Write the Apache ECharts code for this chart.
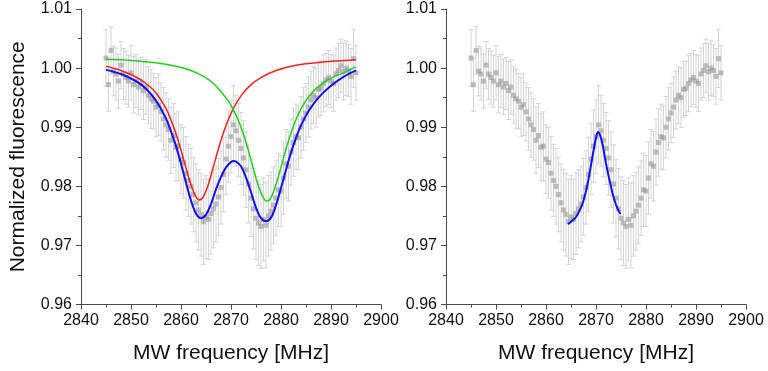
<!DOCTYPE html>
<html>
<head>
<meta charset="utf-8">
<script src="https://cdn.jsdelivr.net/npm/echarts@6/dist/echarts.min.js"></script>
<style>
  html, body { margin: 0; padding: 0; background: #fff; }
  #chart { width: 768px; height: 371px; }
</style>
</head>
<body>
<div id="chart"></div>
<script>
// Measured ODMR spectrum: frequency (MHz), normalized fluorescence and error
const freq = [
  2845, 2845.5, 2846, 2846.5, 2847, 2847.5, 2848, 2848.5, 2849, 2849.5,
  2850, 2850.5, 2851, 2851.5, 2852, 2852.5, 2853, 2853.5, 2854, 2854.5,
  2855, 2855.5, 2856, 2856.5, 2857, 2857.5, 2858, 2858.5, 2859, 2859.5,
  2860, 2860.5, 2861, 2861.5, 2862, 2862.5, 2863, 2863.5, 2864, 2864.5,
  2865, 2865.5, 2866, 2866.5, 2867, 2867.5, 2868, 2868.5, 2869, 2869.5,
  2870, 2870.5, 2871, 2871.5, 2872, 2872.5, 2873, 2873.5, 2874, 2874.5,
  2875, 2875.5, 2876, 2876.5, 2877, 2877.5, 2878, 2878.5, 2879, 2879.5,
  2880, 2880.5, 2881, 2881.5, 2882, 2882.5, 2883, 2883.5, 2884, 2884.5,
  2885, 2885.5, 2886, 2886.5, 2887, 2887.5, 2888, 2888.5, 2889, 2889.5,
  2890, 2890.5, 2891, 2891.5, 2892, 2892.5, 2893, 2893.5, 2894, 2894.5,
  2895
];
const fluor = [
  1.0017, 0.9972, 1.0030, 0.9995, 0.9990, 0.9978, 1.0005, 0.9990, 0.9984, 0.9978,
  0.9992, 0.9972, 0.9978, 0.9968, 0.9974, 0.9962, 0.9968, 0.9954, 0.9948, 0.9944,
  0.9934, 0.9938, 0.9926, 0.9914, 0.9904, 0.9896, 0.9878, 0.9886, 0.9866, 0.9868,
  0.9846, 0.9840, 0.9822, 0.9810, 0.9800, 0.9786, 0.9772, 0.9760, 0.9752, 0.9740,
  0.9748, 0.9744, 0.9754, 0.9762, 0.9770, 0.9782, 0.9798, 0.9820, 0.9846, 0.9868,
  0.9884, 0.9904, 0.9894, 0.9878, 0.9864, 0.9848, 0.9828, 0.9804, 0.9780, 0.9762,
  0.9746, 0.9738, 0.9732, 0.9744, 0.9734, 0.9750, 0.9758, 0.9768, 0.9780, 0.9794,
  0.9792, 0.9814, 0.9838, 0.9834, 0.9858, 0.9874, 0.9884, 0.9882, 0.9900, 0.9914,
  0.9924, 0.9934, 0.9946, 0.9954, 0.9950, 0.9964, 0.9966, 0.9974, 0.9980, 0.9984,
  0.9978, 0.9974, 0.9990, 0.9996, 1.0004, 0.9994, 1.0000, 0.9996, 0.9986, 1.0016,
  0.9992
];
const fluorErr = [
  0.0048, 0.0045, 0.0040, 0.0042, 0.0044, 0.0046, 0.0040, 0.0043, 0.0045, 0.0044,
  0.0046, 0.0048, 0.0045, 0.0047, 0.0044, 0.0049, 0.0046, 0.0048, 0.0050, 0.0047,
  0.0050, 0.0052, 0.0049, 0.0053, 0.0055, 0.0052, 0.0056, 0.0054, 0.0057, 0.0058,
  0.0058, 0.0060, 0.0062, 0.0061, 0.0064, 0.0063, 0.0066, 0.0068, 0.0070, 0.0072,
  0.0070, 0.0068, 0.0069, 0.0066, 0.0064, 0.0065, 0.0062, 0.0063, 0.0060, 0.0061,
  0.0062, 0.0066, 0.0060, 0.0062, 0.0061, 0.0063, 0.0064, 0.0066, 0.0065, 0.0068,
  0.0070, 0.0072, 0.0071, 0.0070, 0.0072, 0.0068, 0.0066, 0.0065, 0.0063, 0.0062,
  0.0060, 0.0061, 0.0058, 0.0059, 0.0056, 0.0057, 0.0055, 0.0054, 0.0052, 0.0053,
  0.0050, 0.0051, 0.0049, 0.0048, 0.0050, 0.0047, 0.0046, 0.0048, 0.0045, 0.0046,
  0.0045, 0.0047, 0.0044, 0.0046, 0.0045, 0.0048, 0.0046, 0.0044, 0.0047, 0.0049,
  0.0046
];

// Lower-frequency dip fit (red)
const fitAX = [2845, 2848, 2851, 2853, 2855, 2857, 2858, 2859, 2860, 2861, 2862, 2863, 2863.7,
  2864.5, 2865.5, 2866.5, 2867.5, 2868.5, 2869.5, 2870.5, 2872, 2874, 2876, 2879, 2883, 2888, 2895];
const fitAY = [1.0003, 0.9996, 0.9985, 0.9974, 0.9958, 0.9932, 0.9912, 0.9889, 0.9861, 0.9831, 0.9802, 0.9782, 0.9777,
  0.9783, 0.9804, 0.9834, 0.9864, 0.9891, 0.9914, 0.9932, 0.9953, 0.9972, 0.9984, 0.9996, 1.0005, 1.0010, 1.0014];

// Higher-frequency dip fit (green)
const fitBX = [2845, 2850, 2855, 2859, 2862, 2864.5, 2866.5, 2868, 2869.5, 2870.5, 2871.5, 2872.5, 2873.5,
  2874.5, 2875.5, 2876.5, 2877.2, 2878, 2879, 2880, 2881, 2882, 2883, 2884, 2885.5, 2887.5, 2890, 2892.5, 2895];
const fitBY = [1.0015, 1.0013, 1.0009, 1.0003, 0.9996, 0.9986, 0.9974, 0.9960, 0.9944, 0.9929, 0.9911, 0.9888, 0.9860,
  0.9829, 0.9800, 0.9780, 0.9775, 0.9781, 0.9803, 0.9832, 0.9863, 0.9890, 0.9913, 0.9931, 0.9951, 0.9969, 0.9983, 0.9992, 1.0002];

// Combined two-dip fit (blue, left panel)
const fitSumX = [2845, 2848, 2851, 2853, 2855, 2857, 2858, 2859, 2860, 2861, 2862, 2863, 2864, 2865, 2866, 2867,
  2868, 2869, 2870, 2870.5, 2871, 2872, 2873, 2874, 2875, 2876, 2877, 2878, 2879, 2880, 2881, 2882, 2883, 2884,
  2885.5, 2887.5, 2890, 2892.5, 2895];
const fitSumY = [0.9997, 0.9990, 0.9978, 0.9965, 0.9945, 0.9915, 0.9893, 0.9868, 0.9838, 0.9806, 0.9776, 0.9754, 0.9746, 0.9752, 0.9770, 0.9795,
  0.9816, 0.9832, 0.9841, 0.9843, 0.9842, 0.9834, 0.9815, 0.9790, 0.9764, 0.9746, 0.9741, 0.9747, 0.9768, 0.9797, 0.9828, 0.9857, 0.9882, 0.9903,
  0.9927, 0.9950, 0.9970, 0.9985, 0.9996];

// Central peak fit (blue, right panel)
const peakX = [2864.4, 2865, 2866, 2867, 2867.5, 2868, 2868.5, 2869, 2869.5, 2870, 2870.4, 2870.8,
  2871.3, 2871.8, 2872.4, 2873, 2873.5, 2874, 2874.5, 2874.9];
const peakY = [0.9736, 0.9740, 0.9748, 0.9764, 0.9776, 0.9792, 0.9812, 0.9836, 0.9860, 0.9882, 0.9892, 0.9887,
  0.9871, 0.9848, 0.9822, 0.9799, 0.9782, 0.9769, 0.9759, 0.9753];

// Axis ticks
const xMin = 2840, xMax = 2900, xStep = 10;
const yMin = 0.96, yMax = 1.01, yStep = 0.01;

const pts = freq.map((f, i) => [f, fluor[i]]);
const bars = freq.map((f, i) => [f, fluor[i] - fluorErr[i], fluor[i] + fluorErr[i]]);
const pair = (xs, ys) => xs.map((x, i) => [x, ys[i]]);

const FONT = 'Liberation Sans, Arial, sans-serif';
const AXIS_COLOR = '#4a4a4a';

function xAxisFor(gridIndex) {
  return {
    gridIndex, type: 'value', min: xMin, max: xMax, interval: xStep,
    name: 'MW frequency [MHz]', nameLocation: 'middle', nameGap: 38,
    nameTextStyle: { fontFamily: FONT, fontSize: 21, color: '#111' },
    axisLine: { show: true, onZero: false, lineStyle: { color: AXIS_COLOR, width: 1 } },
    axisTick: { show: true, inside: false, length: 5, lineStyle: { color: AXIS_COLOR } },
    minorTick: { show: true, splitNumber: 2, length: 3, lineStyle: { color: AXIS_COLOR } },
    axisLabel: { fontFamily: FONT, fontSize: 16, color: '#111', margin: 8,
      formatter: v => String(v) },
    splitLine: { show: false }
  };
}
function yAxisFor(gridIndex, withName) {
  return {
    gridIndex, type: 'value', min: yMin, max: yMax, interval: yStep,
    name: withName ? 'Normalized fluorescence' : '', nameLocation: 'middle', nameGap: 52,
    nameTextStyle: { fontFamily: FONT, fontSize: 21, color: '#111' },
    axisLine: { show: true, onZero: false, lineStyle: { color: AXIS_COLOR, width: 1 } },
    axisTick: { show: true, inside: false, length: 5, lineStyle: { color: AXIS_COLOR } },
    minorTick: { show: true, splitNumber: 2, length: 3, lineStyle: { color: AXIS_COLOR } },
    axisLabel: { fontFamily: FONT, fontSize: 16, color: '#111', margin: 9,
      formatter: v => v.toFixed(2) },
    splitLine: { show: false }
  };
}

function errorBarSeries(axisIndex) {
  return {
    type: 'custom', xAxisIndex: axisIndex, yAxisIndex: axisIndex, z: 1,
    data: bars, silent: true,
    renderItem: (params, api) => {
      const x = api.value(0);
      const lo = api.coord([x, api.value(1)]);
      const hi = api.coord([x, api.value(2)]);
      const cap = 2.5;
      const style = { stroke: '#d4d4d4', lineWidth: 1, fill: null };
      return {
        type: 'group',
        children: [
          { type: 'line', shape: { x1: lo[0], y1: lo[1], x2: hi[0], y2: hi[1] }, style },
          { type: 'line', shape: { x1: lo[0] - cap, y1: lo[1], x2: lo[0] + cap, y2: lo[1] }, style },
          { type: 'line', shape: { x1: hi[0] - cap, y1: hi[1], x2: hi[0] + cap, y2: hi[1] }, style }
        ]
      };
    }
  };
}
function pointSeries(axisIndex) {
  return {
    type: 'scatter', xAxisIndex: axisIndex, yAxisIndex: axisIndex, z: 2,
    data: pts, symbol: 'rect', symbolSize: 5, silent: true,
    itemStyle: { color: 'rgba(145,145,145,0.7)' }
  };
}
function fitSeries(axisIndex, data, color, width) {
  return {
    type: 'line', xAxisIndex: axisIndex, yAxisIndex: axisIndex, z: 3,
    data, smooth: 0.35, showSymbol: false, silent: true,
    lineStyle: { color, width }
  };
}

const chart = echarts.init(document.getElementById('chart'), null, { renderer: 'canvas' });
chart.setOption({
  animation: false,
  backgroundColor: '#fff',
  grid: [
    { left: 81, top: 9, width: 300, height: 295.5 },
    { left: 446, top: 9, width: 300, height: 295.5 }
  ],
  xAxis: [xAxisFor(0), xAxisFor(1)],
  yAxis: [yAxisFor(0, true), yAxisFor(1, false)],
  series: [
    errorBarSeries(0), pointSeries(0),
    fitSeries(0, pair(fitAX, fitAY), '#ff2020', 1.5),
    fitSeries(0, pair(fitBX, fitBY), '#20d020', 1.5),
    fitSeries(0, pair(fitSumX, fitSumY), '#1010f0', 2),
    errorBarSeries(1), pointSeries(1),
    fitSeries(1, pair(peakX, peakY), '#1010f0', 2)
  ]
});
</script>
</body>
</html>
